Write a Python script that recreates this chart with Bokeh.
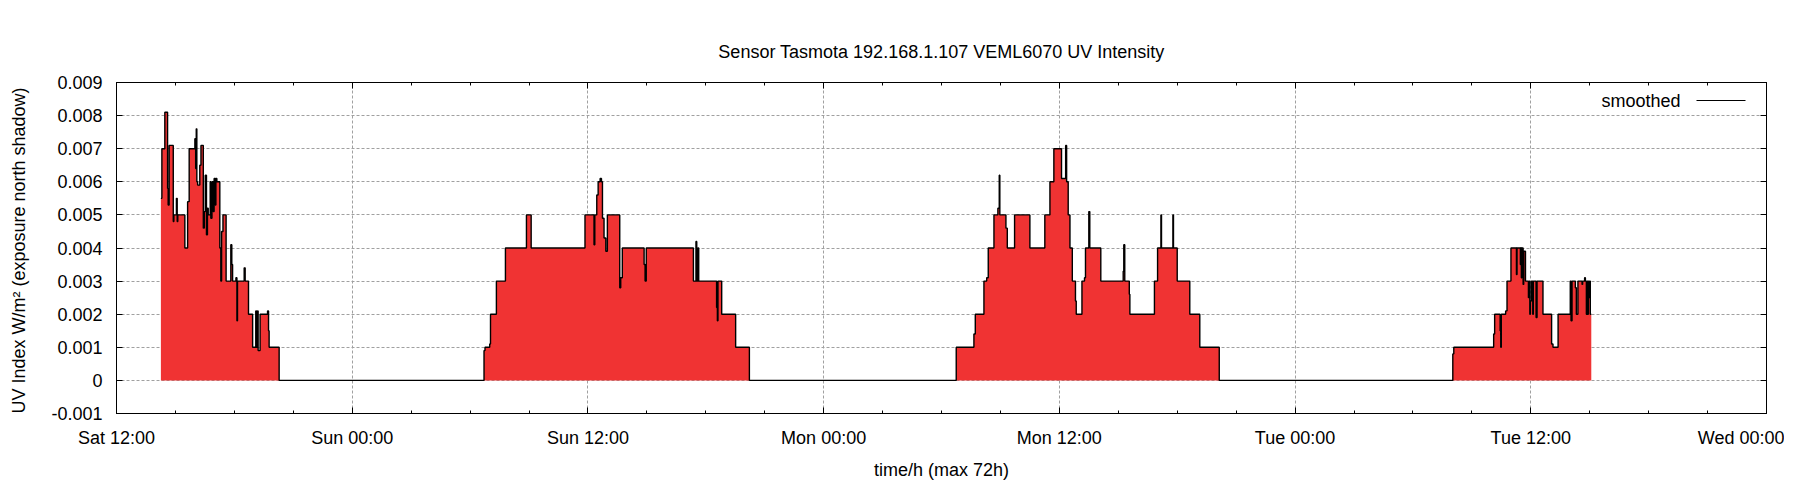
from bokeh.plotting import figure
from bokeh.models import (FixedTicker, LinearAxis, Label, BoxAnnotation, Range1d,
                          ColumnDataSource, CustomLabelingPolicy)
from bokeh.embed import file_html
from bokeh.resources import INLINE

title_text = "Sensor Tasmota 192.168.1.107 VEML6070 UV Intensity"
x_label = "time/h (max 72h)"
y_label = "UV Index W/m\u00b2  (exposure north shadow)"
legend_text = "smoothed"

# hours since Sat 12:00
x_ticks = [0, 12, 24, 36, 48, 60, 72, 84]
x_tick_labels = ["Sat 12:00", "Sun 00:00", "Sun 12:00", "Mon 00:00",
                 "Mon 12:00", "Tue 00:00", "Tue 12:00", "Wed 00:00"]
x_minor_ticks = [0, 3, 6, 9, 12, 15, 18, 21, 24, 27, 30, 33, 36, 39, 42, 45,
                 48, 51, 54, 57, 60, 63, 66, 69, 72, 75, 78, 81, 84]
y_ticks = [-0.001, 0.0, 0.001, 0.002, 0.003, 0.004, 0.005, 0.006, 0.007, 0.008, 0.009]
y_tick_labels = ["-0.001", "0", "0.001", "0.002", "0.003", "0.004",
                 "0.005", "0.006", "0.007", "0.008", "0.009"]

# Saturday
sat_t = [2.26, 2.31, 2.46, 2.60, 2.63, 2.68, 2.89, 2.92, 3.05, 3.09, 3.12, 3.48, 3.62, 3.70,
         3.99, 4.03, 4.06, 4.09, 4.13, 4.24, 4.30, 4.42, 4.47, 4.52, 4.58, 4.63, 4.67, 4.77,
         4.80, 4.86, 4.92, 4.97, 5.03, 5.06, 5.11, 5.26, 5.31, 5.35, 5.42, 5.58, 5.82, 5.87,
         5.91, 6.08, 6.13, 6.16, 6.50, 6.55, 6.72, 6.93, 7.09, 7.13, 7.18, 7.21, 7.31, 7.69,
         7.74, 7.77, 8.28]
sat_v = [0.0055, 0.0070, 0.0081, 0.0058, 0.0053, 0.0071, 0.0048, 0.0050, 0.0055, 0.0048, 0.0050, 0.0040, 0.0054, 0.0070,
         0.0073, 0.0064, 0.0076, 0.0060, 0.0059, 0.0065, 0.0071, 0.0046, 0.0051, 0.0062, 0.0044, 0.0052, 0.0050, 0.0060,
         0.0049, 0.0060, 0.0051, 0.0061, 0.0053, 0.0061, 0.0060, 0.0040, 0.0030, 0.0045, 0.0050, 0.0030, 0.0041, 0.0035,
         0.0030, 0.0031, 0.0018, 0.0030, 0.0034, 0.0030, 0.0020, 0.0010, 0.0021, 0.0010, 0.0021, 0.0009, 0.0020, 0.0021,
         0.0015, 0.0010, 0.0]

# Sunday
sun_t = [18.71, 18.76, 19.00, 19.04, 19.34, 19.80, 20.87, 21.11, 23.85, 24.31, 24.35, 24.45,
         24.52, 24.62, 24.69, 24.74, 24.82, 24.91, 24.99, 25.62, 25.67, 25.75, 26.86, 26.91,
         26.97, 29.37, 29.50, 29.54, 29.60, 29.64, 30.55, 30.59, 30.62, 30.81, 31.52, 32.22]
sun_v = [0.0009, 0.0010, 0.0011, 0.0020, 0.0030, 0.0040, 0.0050, 0.0040, 0.0050, 0.0041, 0.0050, 0.0056,
         0.0060, 0.0061, 0.0060, 0.0049, 0.0043, 0.0039, 0.0050, 0.0028, 0.0031, 0.0040, 0.0035, 0.0030,
         0.0040, 0.0030, 0.0042, 0.0030, 0.0040, 0.0030, 0.0022, 0.0018, 0.0030, 0.0020, 0.0010, 0.0]

# Monday
mon_t = [42.75, 43.65, 43.72, 44.16, 44.30, 44.38, 44.67, 44.87, 44.94, 44.97, 45.28, 45.35,
         45.72, 46.50, 47.26, 47.52, 47.72, 48.11, 48.32, 48.37, 48.45, 48.54, 48.66, 48.82,
         48.86, 49.15, 49.28, 49.33, 49.50, 49.55, 50.11, 51.25, 51.28, 51.33, 51.56, 51.59,
         52.84, 53.00, 53.17, 53.20, 53.78, 53.81, 54.00, 54.64, 55.15, 56.14]
mon_v = [0.0010, 0.0014, 0.0020, 0.0030, 0.0031, 0.0040, 0.0050, 0.0052, 0.0062, 0.0050, 0.0046, 0.0040,
         0.0050, 0.0040, 0.0050, 0.0060, 0.0070, 0.0061, 0.0071, 0.0060, 0.0050, 0.0040, 0.0030, 0.0024,
         0.0020, 0.0030, 0.0031, 0.0040, 0.0051, 0.0040, 0.0030, 0.0033, 0.0041, 0.0030, 0.0026, 0.0020,
         0.0030, 0.0040, 0.0050, 0.0040, 0.0050, 0.0040, 0.0030, 0.0020, 0.0010, 0.0]

# Tuesday
tue_t = [68.03, 68.08, 70.11, 70.16, 70.44, 70.47, 70.50, 70.72, 70.79, 70.99, 71.27, 71.30,
         71.47, 71.50, 71.52, 71.55, 71.61, 71.64, 71.73, 71.88, 71.91, 71.95, 71.98, 72.03,
         72.10, 72.13, 72.27, 72.32, 72.62, 73.06, 73.13, 73.39, 74.01, 74.05, 74.10, 74.27,
         74.32, 74.40, 74.61, 74.64, 74.74, 74.78, 74.83, 74.86, 74.90, 74.93, 74.98, 75.01,
         75.03, 75.08]
tue_v = [0.0008, 0.0010, 0.0014, 0.0020, 0.0015, 0.0010, 0.0020, 0.0021, 0.0030, 0.0040, 0.0032, 0.0040,
         0.0035, 0.0040, 0.0031, 0.0040, 0.0029, 0.0039, 0.0030, 0.0025, 0.0030, 0.0020, 0.0024, 0.0030,
         0.0020, 0.0030, 0.0019, 0.0030, 0.0020, 0.0011, 0.0010, 0.0020, 0.0030, 0.0018, 0.0030, 0.0028,
         0.0020, 0.0030, 0.0029, 0.0030, 0.0031, 0.0030, 0.0020, 0.0030, 0.0020, 0.0030, 0.0025, 0.0030,
         0.0020, 0.0020]

t_all = sat_t + sun_t + mon_t + tue_t
v_all = sat_v + sun_v + mon_v + tue_v
zeros = [0.0] * len(t_all)
src = ColumnDataSource(dict(t=t_all, v=v_all, z=zeros))

FONT = "Liberation Sans"
FS = "18px"

p = figure(width=1784, height=484, output_backend="svg", toolbar_location=None,
           x_range=Range1d(0, 84), y_range=Range1d(-0.001, 0.009),
           title=title_text,
           min_border_left=116, min_border_right=18, min_border_top=82, min_border_bottom=71)
p.background_fill_color = "white"
p.border_fill_color = "white"
p.outline_line_color = "black"
p.outline_line_width = 1
p.outline_line_alpha = 1

p.title.text_font = FONT
p.title.text_font_size = FS
p.title.text_font_style = "normal"
p.title.align = "center"
p.title.text_color = "black"
p.title.standoff = 42

p.varea_step(x="t", y1="z", y2="v", step_mode="after", source=src,
             fill_color="#f03333", fill_alpha=1)
p.step(x="t", y="v", mode="after", source=src, line_color="black", line_width=1.4)

xt = FixedTicker(ticks=x_ticks, minor_ticks=x_minor_ticks)
yt = FixedTicker(ticks=y_ticks, minor_ticks=[])

no_labels = CustomLabelingPolicy(code="""
    for (const i of Array.from(indices)) { indices.unset(i) }
    return indices
""")

def style_axis(ax, ticker, labels):
    ax.ticker = ticker
    ax.axis_line_color = "black"
    ax.major_tick_line_color = "black"
    ax.minor_tick_line_color = "black"
    ax.major_tick_in = 6
    ax.major_tick_out = 0
    ax.minor_tick_in = 3
    ax.minor_tick_out = 0
    ax.major_label_text_font = FONT
    ax.major_label_text_font_size = FS
    ax.major_label_text_color = "black"
    ax.axis_label_text_font = FONT
    ax.axis_label_text_font_size = FS
    ax.axis_label_text_font_style = "normal"
    ax.axis_label_text_color = "black"
    if labels is not None:
        ax.major_label_overrides = labels

xlab = dict(zip(x_ticks, x_tick_labels))
ylab = dict(zip(y_ticks, y_tick_labels))

style_axis(p.xaxis[0], xt, xlab)
p.xaxis[0].axis_label = x_label
p.xaxis[0].major_label_standoff = 14
p.xaxis[0].axis_label_standoff = 9

style_axis(p.yaxis[0], yt, ylab)
p.yaxis[0].axis_label = y_label
p.yaxis[0].major_label_standoff = 14
p.yaxis[0].axis_label_standoff = 19

top_ax = LinearAxis()
style_axis(top_ax, xt, None)
top_ax.major_label_policy = no_labels
top_ax.major_label_text_font_size = "0px"
top_ax.major_label_standoff = 0
p.add_layout(top_ax, "above")

right_ax = LinearAxis()
style_axis(right_ax, yt, None)
right_ax.major_label_policy = no_labels
right_ax.major_label_text_font_size = "0px"
right_ax.major_label_standoff = 0
p.add_layout(right_ax, "right")

p.xgrid.ticker = xt
p.ygrid.ticker = yt
p.grid.grid_line_color = "#a0a0a0"
p.grid.grid_line_dash = "3 2"
p.grid.grid_line_width = 1

leg = Label(x=1564, y=313, x_units="screen", y_units="screen", text=legend_text,
            text_align="right", text_baseline="middle", text_font=FONT,
            text_font_size=FS, text_color="black")
p.add_layout(leg)
leg_line = BoxAnnotation(left=1580, right=1629, bottom=312.4, top=313.6,
                         left_units="screen", right_units="screen",
                         bottom_units="screen", top_units="screen",
                         fill_color="black", fill_alpha=1, line_color=None)
p.add_layout(leg_line)

open("out.html", "w").write(file_html(p, INLINE))
